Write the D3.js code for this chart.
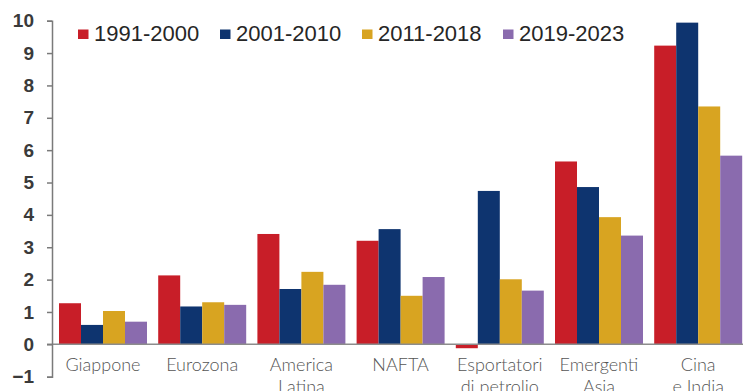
<!DOCTYPE html>
<html>
<head>
<meta charset="utf-8">
<script src="https://cdn.jsdelivr.net/npm/d3@7"></script>
<style>
  html, body { margin: 0; padding: 0; background: #fff; }
  svg { display: block; }
</style>
</head>
<body>
<svg id="chart" width="743" height="391"></svg>
<script>
// Average growth by region and period (%)
const categories = ["Giappone", "Eurozona", "America\nLatina", "NAFTA", "Esportatori\ndi petrolio", "Emergenti\nAsia", "Cina\ne India"];
const periods = ["1991-2000", "2001-2010", "2011-2018", "2019-2023"];
const s1991 = [1.27, 2.13, 3.41, 3.20, -0.12, 5.65, 9.23];
const s2001 = [0.60, 1.17, 1.71, 3.56, 4.74, 4.86, 9.94];
const s2011 = [1.03, 1.30, 2.24, 1.50, 2.01, 3.93, 7.35];
const s2019 = [0.70, 1.22, 1.84, 2.08, 1.66, 3.36, 5.83];
const yTicks = [-1, 0, 1, 2, 3, 4, 5, 6, 7, 8, 9, 10];

const seriesValues = [s1991, s2001, s2011, s2019];
const colors = ["#c81e28", "#0e346f", "#d8a421", "#8a6bae"];

const svg = d3.select("#chart");

const x0 = d3.scaleBand()
  .domain(categories)
  .range([52, 749.2])
  .paddingInner(0.113)
  .paddingOuter(0.0706);

const x1 = d3.scaleBand()
  .domain(periods)
  .range([0, x0.bandwidth()]);

const y = d3.scaleLinear()
  .domain([-1, 10])
  .range([376.7, 20.7]);

// bars
const groups = svg.append("g")
  .selectAll("g")
  .data(categories)
  .join("g")
  .attr("transform", d => `translate(${x0(d)},0)`);

groups.selectAll("rect")
  .data((c, i) => periods.map((p, k) => ({ period: p, value: seriesValues[k][i], k })))
  .join("rect")
  .attr("x", d => x1(d.period))
  .attr("width", x1.bandwidth())
  .attr("y", d => y(Math.max(0, d.value)))
  .attr("height", d => Math.abs(y(d.value) - y(0)))
  .attr("fill", d => colors[d.k]);

// zero line
svg.append("line")
  .attr("x1", 47).attr("x2", 743)
  .attr("y1", y(0)).attr("y2", y(0))
  .attr("stroke", "#8c8c8c")
  .attr("stroke-width", 1.5);

// y axis
const yAxis = svg.append("g")
  .attr("transform", "translate(52,0)")
  .call(d3.axisLeft(y).tickValues(yTicks).tickSize(5).tickSizeOuter(5).tickPadding(13).tickFormat(d3.format("d")));
yAxis.select(".domain").attr("stroke", "#7a7a7a").attr("stroke-width", 1.5);
yAxis.selectAll(".tick line").attr("stroke", "#7a7a7a").attr("stroke-width", 1.5);
yAxis.selectAll(".tick text")
  .attr("font-family", "'Liberation Sans', Arial, sans-serif")
  .attr("font-size", 19)
  .attr("font-weight", "bold")
  .attr("fill", "#3a3a3a");

// category labels
const catLabels = svg.append("g")
  .selectAll("text")
  .data(categories)
  .join("text")
  .attr("x", d => x0(d) + x0.bandwidth() / 2)
  .attr("y", 370.5)
  .attr("text-anchor", "middle")
  .attr("font-family", "Lato, 'Open Sans', sans-serif")
  .attr("font-weight", 300)
  .attr("font-size", 18)
  .attr("fill", "#555");
catLabels.selectAll("tspan")
  .data(d => d.split("\n").map(t => ({ t, cx: x0(d) + x0.bandwidth() / 2 })))
  .join("tspan")
  .attr("x", d => d.cx)
  .attr("dy", (d, i) => i === 0 ? 0 : 22)
  .text(d => d.t);

// legend
const legendX = [78, 220, 362, 503];
const legend = svg.append("g")
  .selectAll("g")
  .data(periods)
  .join("g")
  .attr("transform", (d, i) => `translate(${legendX[i]},0)`);
legend.append("rect")
  .attr("x", 0).attr("y", 29.5)
  .attr("width", 10.5).attr("height", 9.5)
  .attr("fill", (d, i) => colors[i]);
legend.append("text")
  .attr("x", 16).attr("y", 40.5)
  .attr("font-family", "'Liberation Sans', Arial, sans-serif")
  .attr("font-size", 22)
  .attr("fill", "#262626")
  .text(d => d);
</script>
</body>
</html>
